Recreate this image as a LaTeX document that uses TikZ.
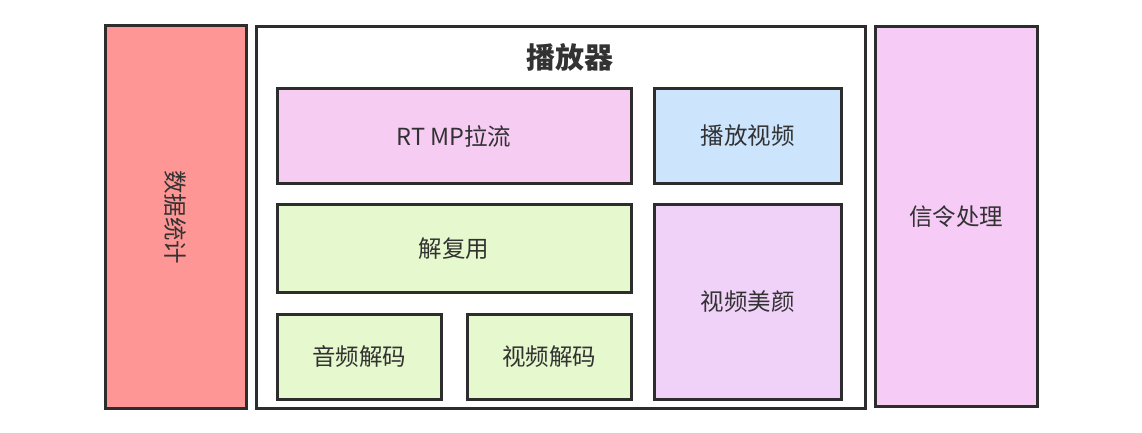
\documentclass[tikz,border=0pt]{standalone}
\usepackage{fontspec}
\setmainfont{Noto Sans CJK SC}
\usetikzlibrary{positioning}
\definecolor{edgegray}{RGB}{45,45,45}
\definecolor{textgray}{RGB}{50,50,50}
\definecolor{statsred}{RGB}{255,150,150}
\definecolor{signalpink}{RGB}{246,203,246}
\definecolor{pullpink}{RGB}{246,204,243}
\definecolor{playblue}{RGB}{204,228,252}
\definecolor{demuxgreen}{RGB}{230,248,205}
\definecolor{beautyviolet}{RGB}{240,210,248}

\begin{document}
\begin{tikzpicture}[
    x=1pt, y=-1pt,
    blk/.style={draw=edgegray, line width=3pt, text=textgray,
        font=\fontsize{23.5}{26}\selectfont, inner sep=0pt, anchor=north west},
    ttl/.style={font=\fontsize{29}{32}\selectfont\bfseries, text=textgray}
]
\useasboundingbox[fill=white] (0,0) rectangle (1142,433);

% side blocks
\node[blk, fill=statsred, minimum width=141, minimum height=383] (stats) at (103.5,24) {};
\node[rotate=-90, text=textgray, font=\fontsize{23.5}{26}\selectfont] (statslabel) at (stats.center) {数据统计};
\node[blk, fill=signalpink, minimum width=162, minimum height=380] (signal) at (873.5,25) {信令处理};

% player frame
\node[blk, fill=white, minimum width=609, minimum height=382] (player) at (254.5,25) {};
\node[ttl] (playertitle) at (570,57) {播放器};

% inner blocks
\node[blk, fill=pullpink, minimum width=354, minimum height=95] (pull) at (275.5,87) {RT MP拉流};
\node[blk, fill=playblue, minimum width=187, minimum height=95] (play) at (652.5,87) {播放视频};
\node[blk, fill=demuxgreen, minimum width=354, minimum height=88] (demux) at (275.5,203) {解复用};
\node[blk, fill=beautyviolet, minimum width=187, minimum height=195] (beauty) at (652.5,203) {视频美颜};
\node[blk, fill=demuxgreen, minimum width=164, minimum height=85] (adec) at (275.5,313) {音频解码};
\node[blk, fill=demuxgreen, minimum width=164, minimum height=85] (vdec) at (465.5,313) {视频解码};
\end{tikzpicture}
\end{document}
